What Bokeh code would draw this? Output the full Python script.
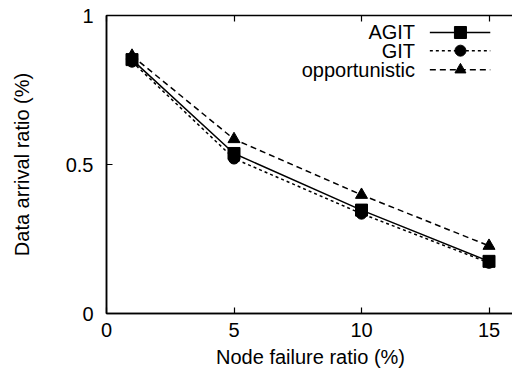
from bokeh.plotting import figure
from bokeh.models import LinearAxis, Range1d, FixedTicker, Label
from bokeh.embed import file_html
from bokeh.resources import INLINE

failure = [1, 5, 10, 15]
agit = [0.852, 0.537, 0.347, 0.175]
git = [0.845, 0.52, 0.335, 0.17]
opportunistic = [0.865, 0.585, 0.398, 0.227]
series_names = ["AGIT", "GIT", "opportunistic"]
x_ticks = [0, 5, 10, 15]
y_ticks = [0, 0.5, 1]

FONT = "Liberation Sans"
FS = "20px"

p = figure(output_backend="svg", toolbar_location=None,
           x_range=Range1d(0, 16), y_range=Range1d(0, 1),
           min_border_left=106, min_border_right=0, min_border_top=15, min_border_bottom=63)
p.frame_width = 408
p.frame_height = 298
p.grid.visible = False
p.outline_line_color = "black"
p.outline_line_width = 1.5
p.background_fill_color = "white"
p.border_fill_color = "white"

for ax in [p.xaxis[0], p.yaxis[0]]:
    ax.major_tick_in = 6
    ax.major_tick_out = 0
    ax.minor_tick_line_color = None
    ax.axis_line_width = 1.5
    ax.major_tick_line_width = 1.2
    ax.major_label_text_font = FONT
    ax.major_label_text_font_size = FS
    ax.major_label_text_color = "black"
    ax.axis_label_text_font = FONT
    ax.axis_label_text_font_size = FS
    ax.axis_label_text_font_style = "normal"
    ax.axis_label_text_color = "black"

p.xaxis.ticker = FixedTicker(ticks=x_ticks)
p.yaxis.ticker = FixedTicker(ticks=y_ticks)
p.yaxis.major_label_overrides = {0: "0", 0.5: "0.5", 1: "1"}
p.xaxis.axis_label = "Node failure ratio (%)"
p.yaxis.axis_label = "Data arrival ratio (%)"
p.xaxis.major_label_standoff = 9
p.yaxis.major_label_standoff = 13
p.xaxis.axis_label_standoff = 6
p.yaxis.axis_label_standoff = 30

top = LinearAxis(ticker=FixedTicker(ticks=x_ticks), major_tick_in=6, major_tick_out=0,
                 minor_tick_line_color=None, axis_line_color=None, major_label_standoff=0,
                 major_tick_line_width=1.2,
                 major_label_overrides={t: "" for t in x_ticks})
p.add_layout(top, "above")

# data series
p.line(failure, agit, line_color="black", line_width=1.5)
p.scatter(failure, agit, marker="square", size=12, color="black")
p.line(failure, git, line_color="black", line_width=1.5, line_dash="3 3")
p.scatter(failure, git, marker="circle", size=11, color="black")
p.line(failure, opportunistic, line_color="black", line_width=1.5, line_dash="6 4")
p.scatter(failure, opportunistic, marker="triangle", size=12, color="black")

# manual legend (label then sample, right-aligned)
leg_y = [0.943, 0.882, 0.818]
dashes = ["solid", "3 3", "6 4"]
markers = ["square", "circle", "triangle"]
msizes = [12, 11, 11]
lx0, lx1, lxm = 12.68, 15.05, 13.88
for name, yy, d, m, ms in zip(series_names, leg_y, dashes, markers, msizes):
    p.line([lx0, lx1], [yy, yy], line_color="black", line_width=1.5, line_dash=d)
    p.scatter([lxm], [yy], marker=m, size=ms, color="black")
    p.add_layout(Label(x=12.1, y=yy, text=name, text_align="right", text_baseline="middle",
                       text_font=FONT, text_font_size=FS, text_color="black"))

open("out.html", "w").write(file_html(p, INLINE))
